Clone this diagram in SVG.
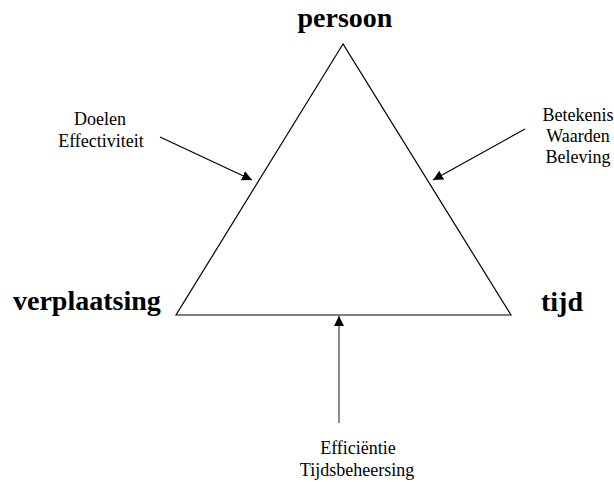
<svg xmlns="http://www.w3.org/2000/svg" width="614" height="482" viewBox="0 0 614 482">
<style>
.t{font-family:"Liberation Serif","Times New Roman",serif;font-size:18px;fill:#000;text-anchor:middle}
.b{font-family:"Liberation Serif","Times New Roman",serif;font-size:28px;font-weight:bold;fill:#000}
.c{fill:none;stroke:#000;stroke-width:1.2}
</style>
<defs>
<marker id="ah2" viewBox="0 0 10 10" refX="10" refY="5" markerWidth="10" markerHeight="10" orient="auto" markerUnits="userSpaceOnUse"><path d="M0,0L10,5L0,10Z" fill="#000"/></marker>
</defs>
<g id="triangle"><path class="c" d="M343,44L176,315L511,315Z"/></g>
<g id="persoon"><text class="b" x="345" y="27" text-anchor="middle">persoon</text></g>
<g id="verplaatsing"><text class="b" x="13" y="310">verplaatsing</text></g>
<g id="tijd"><text class="b" x="541" y="311">tijd</text></g>
<g id="doelen"><text class="t" x="100" y="125">Doelen</text><text class="t" x="101" y="147">Effectiviteit</text></g>
<g id="betekenis"><text class="t" x="578" y="121">Betekenis</text><text class="t" x="578" y="142">Waarden</text><text class="t" x="578" y="163">Beleving</text></g>
<g id="efficientie"><text class="t" x="358" y="454">Efficiëntie</text><text class="t" x="357" y="476">Tijdsbeheersing</text></g>
<g id="connectors">
<line class="c" x1="160" y1="137" x2="252" y2="180" marker-end="url(#ah2)"/>
<line class="c" x1="525" y1="129" x2="433" y2="180" marker-end="url(#ah2)"/>
<line x1="339" y1="423" x2="339" y2="316" stroke="#666" stroke-width="1.5" marker-end="url(#ah2)"/>
</g>
</svg>
